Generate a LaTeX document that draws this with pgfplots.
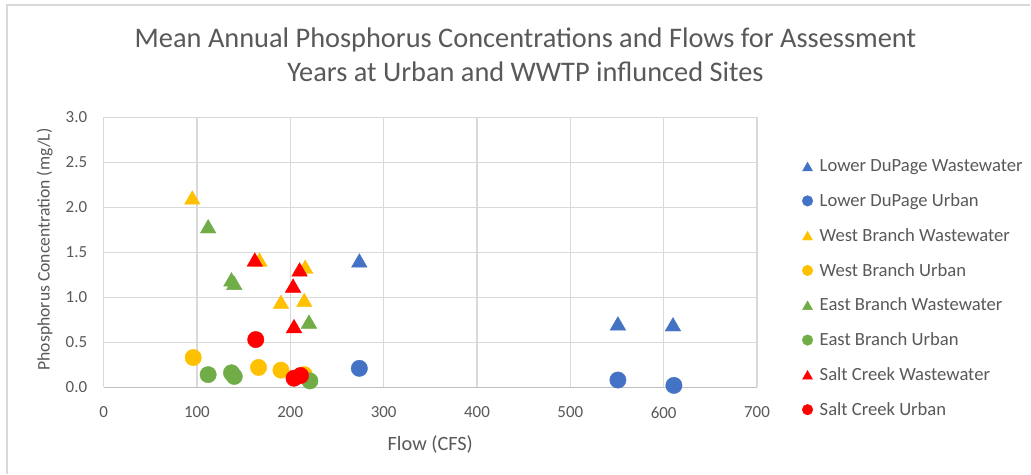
\documentclass[border=0pt]{standalone}
\usepackage{pgfplots}
\pgfplotsset{compat=1.18}
\usepackage{fontspec}
\setmainfont{Carlito}

\definecolor{txtgray}{RGB}{89,89,89}
\definecolor{gridgray}{RGB}{217,217,217}
\definecolor{axgray}{RGB}{191,191,191}
\definecolor{ldblue}{RGB}{68,114,196}
\definecolor{wbyellow}{RGB}{255,192,0}
\definecolor{ebgreen}{RGB}{112,173,71}
\definecolor{scred}{RGB}{255,0,0}

\pgfplotsset{
  ptlegend/.style={legend image code/.code={%
    \path (0bp,0bp) (15bp,0bp);
    \draw[##1] plot coordinates {(5bp,0bp)};}},
  ww/.style={only marks, mark=triangle*, color=#1, mark size=9bp,
    mark options={yshift=-2.25bp}, ptlegend,
    legend image post style={mark size=5.8bp, mark options={yshift=-1.45bp}}},
  urb/.style={only marks, mark=*, color=#1, mark size=8.2bp, ptlegend,
    legend image post style={mark size=5.3bp}},
}

\begin{document}
\begin{tikzpicture}[x=1bp,y=1bp]
\fill[white] (0,0) rectangle (1031,474);
\draw[gridgray, line width=2bp] (7,0) -- (7,469) -- (1031,469);

\node[anchor=base, text=txtgray, font=\fontsize{28.5}{34}\selectfont] at (526,426.7)
  {Mean Annual Phosphorus Concentrations and Flows for Assessment};
\node[anchor=base, text=txtgray, font=\fontsize{28.5}{34}\selectfont] at (526,392.3)
  {Years at Urban and WWTP influnced Sites};

\begin{axis}[
  at={(111,96)}, anchor=south west,
  scale only axis, width=654bp, height=270bp,
  xmin=0, xmax=700, ymin=0, ymax=3,
  xtick={0,100,200,300,400,500,600,700},
  ytick={0,0.5,1,1.5,2,2.5,3},
  grid=major, grid style={gridgray, line width=1.3bp},
  axis line style={draw=none},
  major tick length=0pt,
  tick label style={text=txtgray, font=\fontsize{17}{20}\selectfont},
  /pgf/number format/assume math mode=true,
  yticklabel style={/pgf/number format/fixed, /pgf/number format/fixed zerofill,
    /pgf/number format/precision=1, xshift=-13bp},
  xticklabel style={yshift=-16bp},
  xlabel={Flow (CFS)},
  xlabel style={at={(rel axis cs:0.5,0)}, anchor=base, yshift=-63bp,
    text=txtgray, font=\fontsize{20.4}{24}\selectfont},
  ylabel={Phosphorus Concentration (mg/L)},
  ylabel style={at={(rel axis cs:0,0.511)}, anchor=center, yshift=59bp,
    text=txtgray, font=\fontsize{17.7}{21}\selectfont},
  legend cell align=left,
  legend style={at={(axis description cs:1.069,0.851)}, anchor=north west,
    draw=none, fill=none, inner sep=0pt, row sep=16.4bp,
    nodes={inner sep=2bp, text=txtgray, font=\fontsize{18.7}{22}\selectfont}},
]
% bottom axis line
\draw[axgray, line width=1.3bp] (rel axis cs:0,0) -- (rel axis cs:1,0);

\addplot[ww=ldblue] table {
x y
274 1.41
551 0.71
610 0.70
};
\addlegendentry{Lower DuPage Wastewater}
\addplot[urb=ldblue] table {
x y
274 0.21
551 0.08
611 0.02
};
\addlegendentry{Lower DuPage Urban}
\addplot[ww=wbyellow] table {
x y
95 2.11
167 1.42
216 1.34
190 0.95
215 0.97
};
\addlegendentry{West Branch Wastewater}
\addplot[urb=wbyellow] table {
x y
96 0.33
166 0.22
190 0.19
215 0.14
};
\addlegendentry{West Branch Urban}
\addplot[ww=ebgreen] table {
x y
112 1.79
137 1.20
140 1.16
220 0.73
};
\addlegendentry{East Branch Wastewater}
\addplot[urb=ebgreen] table {
x y
112 0.14
137 0.16
140 0.12
221 0.07
};
\addlegendentry{East Branch Urban}
\addplot[ww=scred] table {
x y
162 1.42
210 1.31
203 1.13
204 0.68
};
\addlegendentry{Salt Creek Wastewater}
\addplot[urb=scred] table {
x y
163 0.53
204 0.10
211 0.13
};
\addlegendentry{Salt Creek Urban}
\end{axis}
\end{tikzpicture}
\end{document}
